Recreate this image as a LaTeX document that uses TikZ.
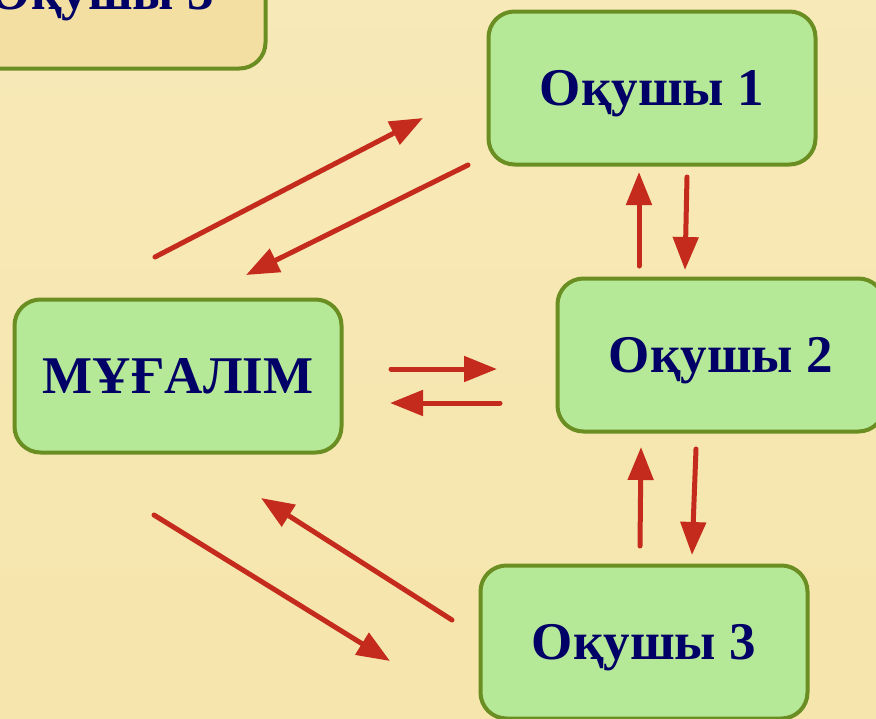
\documentclass[tikz,border=0pt]{standalone}
\usepackage{fontspec}
\setmainfont{Liberation Serif}
\usepackage{tikz}
\usetikzlibrary{arrows.meta}
\definecolor{bgtop}{HTML}{F7E9B8}
\definecolor{bgmid}{HTML}{F2DB96}
\definecolor{bgbot}{HTML}{F6E5AC}
\definecolor{boxfill}{HTML}{B5E897}
\definecolor{oldfill}{HTML}{F3DFA2}
\definecolor{boxline}{HTML}{6B8E23}
\definecolor{inkblue}{HTML}{000066}
\definecolor{arrowred}{HTML}{C42B1C}
\tikzstyle{box} = [draw=boxline, line width=4pt, fill=boxfill, rounded corners=26pt, minimum width=327pt, minimum height=153pt, text=inkblue, font=\fontsize{53}{56}\selectfont\bfseries, text height=35pt, text depth=0pt]
\tikzstyle{ar} = [draw=arrowred, line width=5pt, line cap=round, -{Triangle[length=33pt,width=25pt]}]

\begin{document}
\begin{tikzpicture}[yscale=-1]
			\useasboundingbox (0pt,0pt) rectangle (876pt,718pt);
			\clip (0pt,0pt) rectangle (876pt,718pt);
			\shade[top color=bgtop, middle color=bgmid, bottom color=bgbot] (0pt,0pt) rectangle (876pt,718pt);
			\node[box, fill=oldfill] (ok3old) at (102pt,-8pt) {Оқушы 3};
			\node[box] (mug) at (178pt,376pt) {МҰҒАЛІМ};
			\node[box] (ok1) at (652pt,88pt) {Оқушы 1};
			\node[box] (ok2) at (721pt,355pt) {Оқушы 2};
			\node[box] (ok3) at (644pt,642pt) {Оқушы 3};
			\coordinate (mo1a) at (155pt,257pt);
			\coordinate (mo1b) at (423pt,118pt);
			\coordinate (om1a) at (468pt,165pt);
			\coordinate (om1b) at (246pt,275pt);
			\coordinate (mo2a) at (391pt,369pt);
			\coordinate (mo2b) at (497pt,369pt);
			\coordinate (om2a) at (500pt,403pt);
			\coordinate (om2b) at (390pt,403pt);
			\coordinate (mo3a) at (154pt,515pt);
			\coordinate (mo3b) at (390pt,661pt);
			\coordinate (om3a) at (452pt,620pt);
			\coordinate (om3b) at (261pt,498pt);
			\coordinate (up1a) at (639pt,266pt);
			\coordinate (up1b) at (639pt,172pt);
			\coordinate (dn1a) at (687pt,177pt);
			\coordinate (dn1b) at (685pt,270pt);
			\coordinate (up2a) at (640pt,546pt);
			\coordinate (up2b) at (641pt,447pt);
			\coordinate (dn2a) at (696pt,449pt);
			\coordinate (dn2b) at (692pt,555pt);
			\draw[ar] (mo1a) -- (mo1b);
			\draw[ar] (om1a) -- (om1b);
			\draw[ar] (mo2a) -- (mo2b);
			\draw[ar] (om2a) -- (om2b);
			\draw[ar] (mo3a) -- (mo3b);
			\draw[ar] (om3a) -- (om3b);
			\draw[ar] (up1a) -- (up1b);
			\draw[ar] (dn1a) -- (dn1b);
			\draw[ar] (up2a) -- (up2b);
			\draw[ar] (dn2a) -- (dn2b);
		\end{tikzpicture}
\end{document}
